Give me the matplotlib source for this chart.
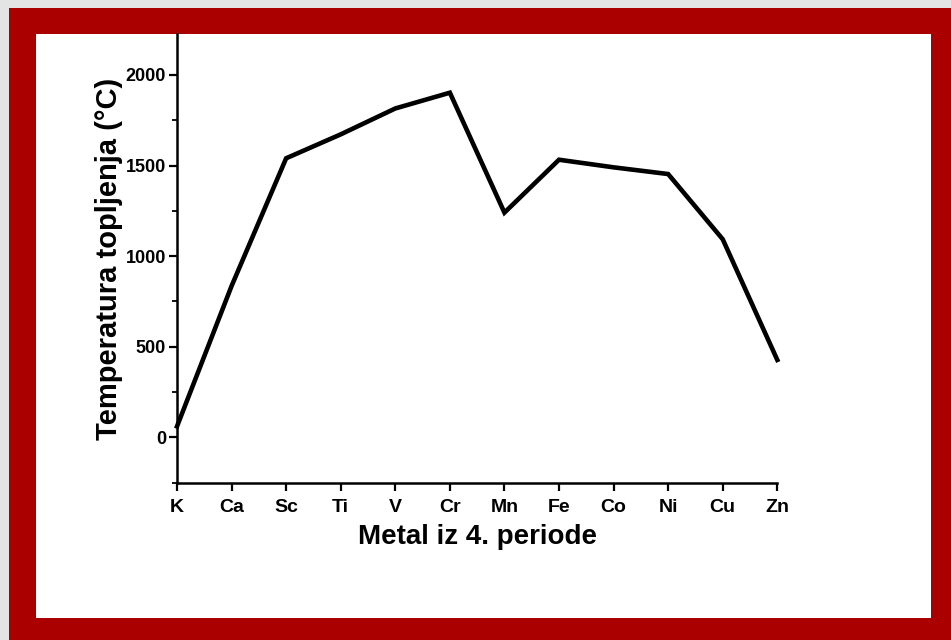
import matplotlib
matplotlib.use('Agg')
import matplotlib.pyplot as plt
from matplotlib.patches import Rectangle
from matplotlib.ticker import MultipleLocator

# talista metala 4. periode (procitano sa slike)
metals = ['K', 'Ca', 'Sc', 'Ti', 'V', 'Cr', 'Mn', 'Fe', 'Co', 'Ni', 'Cu', 'Zn']
melting = [60, 835, 1540, 1672, 1815, 1902, 1240, 1532, 1490, 1453, 1093, 427]
yticks = [0, 500, 1000, 1500, 2000]

plt.rcParams['font.family'] = ['Liberation Sans', 'DejaVu Sans']
plt.rcParams['font.weight'] = 'bold'

W, H = 951, 640
fig = plt.figure(figsize=(W/100, H/100), dpi=100)
fig.patch.set_facecolor('#e4e4e4')

# crveni okvir i bijela podloga
fig.patches.append(Rectangle((9/W, 0), 1 - 9/W, 1 - 8/H, transform=fig.transFigure,
                             facecolor='#aa0000', edgecolor='none', zorder=-3))
fig.patches.append(Rectangle((36/W, 22/H), 895/W, 584/H, transform=fig.transFigure,
                             facecolor='white', edgecolor='none', zorder=-2))

ax = fig.add_axes([177/W, 1 - 483.3/H, (777.3 - 177)/W, (483.3 - 34)/H])
ax.set_facecolor('none')

x = list(range(len(metals)))
ax.plot(x, melting, color='black', lw=3.3, solid_joinstyle='miter', clip_on=False)

ax.set_xlim(0, len(metals) - 1)
ax.set_ylim(-254, 2226)
ax.set_xticks(x)
ax.set_xticklabels(metals)
ax.set_yticks(yticks)
ax.yaxis.set_minor_locator(MultipleLocator(250))

for s in ['top', 'right']:
    ax.spines[s].set_visible(False)
for s in ['left', 'bottom']:
    ax.spines[s].set_linewidth(1.8)

ax.tick_params(axis='both', which='major', length=6, width=1.6)
ax.tick_params(axis='x', labelsize=14, pad=5)
ax.tick_params(axis='y', labelsize=13, pad=2)
ax.tick_params(axis='y', which='minor', length=3.5, width=1.3)
for lab in ax.get_xticklabels() + ax.get_yticklabels():
    lab.set_fontweight('bold')

ax.set_xlabel('Metal iz 4. periode', fontsize=20, fontweight='bold', labelpad=6)
ax.set_ylabel('Temperatura topljenja (°C)', fontsize=21, fontweight='bold', labelpad=1.5)

fig.savefig('out.png', dpi=100, facecolor=fig.get_facecolor())
